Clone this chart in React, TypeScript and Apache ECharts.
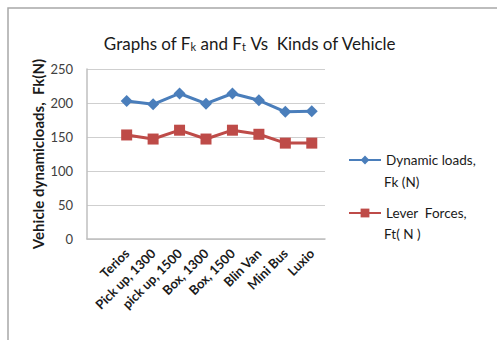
import React, { useEffect, useRef } from "react";
import * as echarts from "echarts";

const categories = ["", "Terios", "Pick up, 1300", "pick up, 1500", "Box, 1300", "Box, 1500", "Blin Van", "Mini Bus", "Luxio"];
const dynamicLoads = [null, 203, 198, 214, 199, 214, 204, 187, 188];
const leverForces = [null, 153, 147, 160, 147, 160, 154, 141, 141];
const yTicks = { min: 0, max: 250, interval: 50 };
const seriesNames = ["Dynamic loads,", "Lever  Forces,"];
const seriesUnits = ["Fk (N)", "Ft( N )"];

const FONT = "Lato";

export default function App() {
  const ref = useRef<HTMLDivElement>(null);
  useEffect(() => {
    if (!ref.current) return;
    const chart = echarts.init(ref.current, null, { renderer: "svg" });
    const legendText = { fontFamily: FONT, fontSize: 13.5, color: "#1a1a1a", lineHeight: 21 };
    chart.setOption({
      animation: false,
      backgroundColor: "#ffffff",
      textStyle: { fontFamily: FONT },
      graphic: [
        {
          type: "rect",
          shape: { x: 8, y: 8, width: 700, height: 500 },
          style: { fill: "none", stroke: "#a8a8a8", lineWidth: 1.5 },
          silent: true,
        },
        {
          type: "text",
          x: 384,
          y: 182,
          style: { text: seriesUnits[0], font: `13.5px ${FONT}`, fill: "#1a1a1a", verticalAlign: "middle" },
          silent: true,
        },
        {
          type: "text",
          x: 384,
          y: 234,
          style: { text: seriesUnits[1], font: `13.5px ${FONT}`, fill: "#1a1a1a", verticalAlign: "middle" },
          silent: true,
        },
      ],
      title: {
        left: 245,
        textAlign: "center",
        top: 27,
        text: "{a|Graphs of F}{s|k}{a| and F}{s|t}{a| Vs  Kinds of Vehicle}",
        textStyle: {
          fontWeight: "normal",
          rich: {
            a: { fontFamily: FONT, fontSize: 17, fontWeight: "normal", color: "#1a1a1a", lineHeight: 20, verticalAlign: "bottom" },
            s: { fontFamily: FONT, fontSize: 11, fontWeight: "normal", color: "#1a1a1a", lineHeight: 11, verticalAlign: "bottom" },
          },
        },
      },
      grid: { left: 87, right: 172, top: 69, bottom: 101 },
      legend: [
        {
          data: [seriesNames[0]],
          orient: "vertical",
          left: 348,
          top: 149.5,
          padding: 0,
          itemWidth: 32,
          itemHeight: 11,
          textStyle: legendText,
        },
        {
          data: [seriesNames[1]],
          orient: "vertical",
          left: 348,
          top: 202.5,
          padding: 0,
          itemWidth: 32,
          itemHeight: 11,
          textStyle: legendText,
        },
      ],
      xAxis: {
        type: "category",
        data: categories,
        boundaryGap: true,
        axisLine: { lineStyle: { color: "#bfbfbf", width: 1.5 } },
        axisTick: { show: false },
        axisLabel: {
          interval: 0,
          rotate: 45,
          fontFamily: FONT,
          fontSize: 13,
          fontWeight: "bold",
          color: "#1a1a1a",
          margin: 12,
        },
      },
      yAxis: {
        type: "value",
        min: yTicks.min,
        max: yTicks.max,
        interval: yTicks.interval,
        name: "Vehicle dynamicloads,  Fk(N)",
        nameLocation: "middle",
        nameGap: 42,
        nameTextStyle: { fontFamily: FONT, fontSize: 15, fontWeight: "bold", color: "#1a1a1a" },
        axisLine: { show: true, lineStyle: { color: "#bfbfbf", width: 1.5 } },
        axisTick: { show: false },
        splitLine: { lineStyle: { color: "#cfcfcf", width: 1.2 } },
        axisLabel: { fontFamily: FONT, fontSize: 13, color: "#404040", margin: 14 },
      },
      series: [
        {
          name: seriesNames[0],
          type: "line",
          data: dynamicLoads,
          symbol: "diamond",
          symbolSize: 12,
          lineStyle: { color: "#4a7ebb", width: 3 },
          itemStyle: { color: "#4a7ebb" },
        },
        {
          name: seriesNames[1],
          type: "line",
          data: leverForces,
          symbol: "rect",
          symbolSize: 11,
          lineStyle: { color: "#be4b48", width: 3 },
          itemStyle: { color: "#be4b48" },
        },
      ],
    });
    return () => chart.dispose();
  }, []);
  return <div ref={ref} style={{ position: "absolute", left: 0, top: 0, width: 497, height: 340 }} />;
}
